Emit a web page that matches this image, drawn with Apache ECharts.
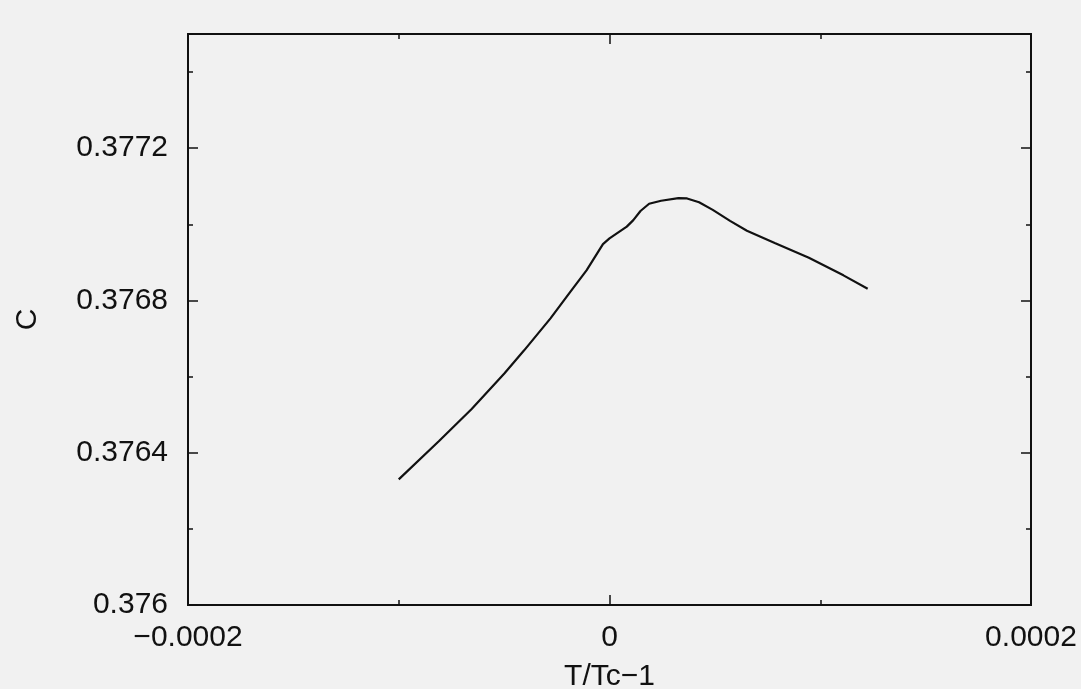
<!DOCTYPE html>
<html>
<head>
<meta charset="utf-8">
<script src="https://cdn.jsdelivr.net/npm/echarts@6/dist/echarts.min.js"></script>
<style>
html,body{margin:0;padding:0;background:#f1f1f1;}
#chart{width:1081px;height:689px;}
</style>
</head>
<body>
<div id="chart"></div>
<script>
// Data
const tVals = [-0.0001, -0.000081, -0.0000654, -0.0000499, -0.0000405, -0.000028, -0.0000187, -0.0000109, -0.0000031, 0,
  0.0000082, 0.0000113, 0.0000147, 0.0000188, 0.0000245, 0.0000327, 0.0000368, 0.0000425, 0.000049, 0.0000572,
  0.0000652, 0.0000784, 0.0000946, 0.000111, 0.0001225];
const cVals = [0.37633, 0.37643, 0.376515, 0.376608, 0.376669, 0.376753, 0.376822, 0.376879, 0.376948, 0.376963,
  0.376994, 0.377011, 0.377035, 0.377054, 0.377062, 0.377069, 0.377068, 0.377058, 0.377038, 0.377009,
  0.376983, 0.376951, 0.376912, 0.376866, 0.376831];
const xTicks = [-0.0002, 0, 0.0002];
const yTicks = [0.376, 0.3764, 0.3768, 0.3772];
const xName = 'T/Tc\u22121';
const yName = 'C';

const ink = '#111';
const font = 'Liberation Sans, Arial, sans-serif';
const X_MIN = xTicks[0], X_MAX = xTicks[xTicks.length - 1];
const Y_MIN = yTicks[0], Y_MAX = 0.3775;

const chart = echarts.init(document.getElementById('chart'));
const lineStyle = {color: ink, width: 2};
function yAx(pos, interval, len, labels, extra) {
  return Object.assign({
    type: 'value', position: pos, min: Y_MIN, max: Y_MAX, interval: interval,
    axisLine: {show: true, onZero: false, lineStyle: lineStyle},
    axisTick: {show: true, inside: true, length: len, lineStyle: {color: ink, width: 1.5}},
    axisLabel: {show: labels, color: ink, fontSize: 30, fontFamily: font, margin: 20, showMaxLabel: false},
    splitLine: {show: false}
  }, extra || {});
}
function xAx(pos, labels, extra) {
  return Object.assign({
    type: 'value', position: pos, min: X_MIN, max: X_MAX, interval: 0.0002,
    axisLine: {show: true, onZero: false, lineStyle: lineStyle},
    axisTick: {show: true, inside: true, length: 10, lineStyle: {color: ink, width: 1.5}},
    minorTick: {show: true, splitNumber: 2, length: 5, lineStyle: {color: ink, width: 1.5}},
    axisLabel: {show: labels, color: ink, fontSize: 30, fontFamily: font, margin: 18,
      formatter: v => String(+v.toFixed(6)).replace('-', '\u2212')},
    splitLine: {show: false}
  }, extra || {});
}
chart.setOption({
  backgroundColor: '#f1f1f1',
  animation: false,
  grid: {left: 188, right: 50, top: 34, bottom: 84, containLabel: false, outerBoundsMode: 'none'},
  xAxis: [
    xAx('bottom', true, {name: xName, nameLocation: 'middle', nameGap: 57,
      nameTextStyle: {color: ink, fontSize: 30, fontFamily: font}}),
    xAx('top', false)
  ],
  yAxis: [
    yAx('left', 0.0004, 10, true, {name: yName, nameLocation: 'middle', nameGap: 145,
      nameTextStyle: {color: ink, fontSize: 30, fontFamily: font}}),
    yAx('right', 0.0004, 10, false),
    yAx('left', 0.0002, 5, false),
    yAx('right', 0.0002, 5, false)
  ],
  series: [{
    type: 'line',
    xAxisIndex: 0, yAxisIndex: 0,
    data: tVals.map((t, i) => [t, cVals[i]]),
    showSymbol: false,
    lineStyle: {color: ink, width: 2.2},
    smooth: false
  }]
});
</script>
</body>
</html>
